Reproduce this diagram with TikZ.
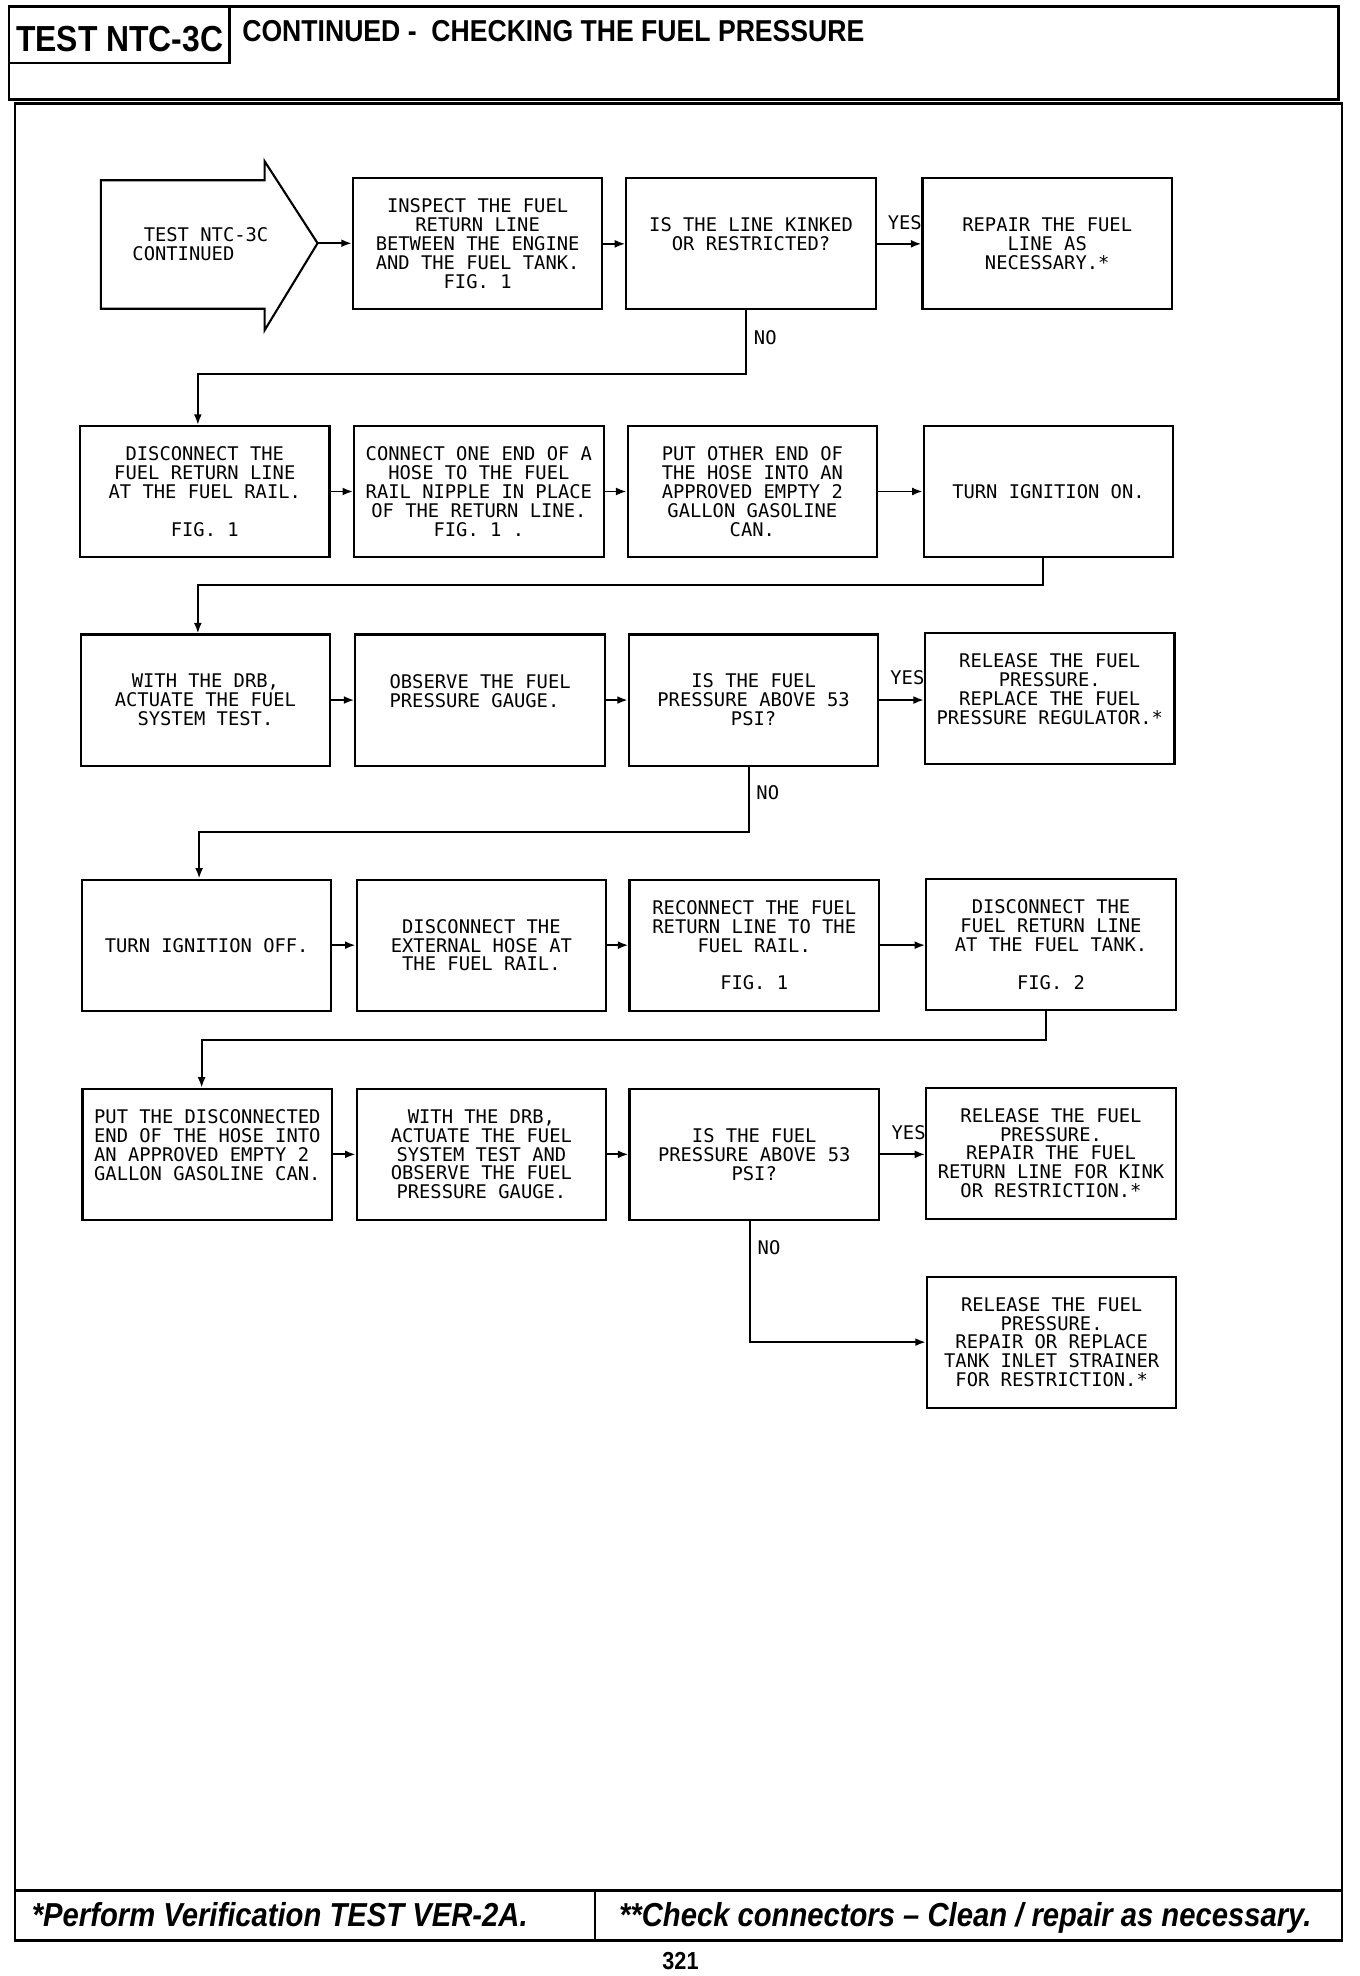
\documentclass[tikz,border=0pt]{standalone}
\usepackage{fontspec}
\setmainfont{Liberation Sans}
\newfontfamily\boxfont{DejaVu Sans Mono}
\newfontfamily\hdrfont[FakeStretch=0.88]{Liberation Sans}
\usetikzlibrary{arrows.meta,calc}
\def\U{0.025208cm}
\newcommand\bxf{\boxfont\fontsize{10.7pt}{10.76pt}\selectfont}
\begin{document}
\begin{tikzpicture}[x={(\U,0)},y={(0,-\U)},
  flowbox/.style={draw,line width=1.2pt,minimum width=198*\U,minimum height=104*\U,inner sep=0pt,align=center,font=\bxf},
  arr/.style={line width=1.1pt,-{Latex[length=6pt,width=4.5pt]}},
  lab/.style={font=\bxf,inner sep=0pt},
  frame/.style={line width=1.5pt}]
\fill[white] (0,0) rectangle (1079,1568);
\useasboundingbox (0,0) rectangle (1079,1568);

% header and frame
\draw[frame] (7,5) rectangle (1062,79);
\draw[frame] (7,50) -- (182,50) -- (182,5);
\node[anchor=base,inner sep=0pt,font=\hdrfont\fontsize{20.6pt}{24pt}\selectfont\bfseries] (hdA) at (95,41) {TEST NTC-3C};
\node[anchor=base west,inner sep=0pt,font=\hdrfont\fontsize{17.2pt}{20pt}\selectfont\bfseries] (hdB) at (192,33) {CONTINUED -\ \ CHECKING THE FUEL PRESSURE};
\draw[frame] (12,82) rectangle (1065,1540);
\draw[frame] (12,1500) -- (1065,1500);
\draw[frame] (472,1500) -- (472,1540);
\node[anchor=base,inner sep=0pt,font=\hdrfont\fontsize{18.9pt}{22pt}\selectfont\bfseries\itshape] (ftA) at (222,1529) {*Perform Verification TEST VER-2A.};
\node[anchor=base,inner sep=0pt,font=\hdrfont\fontsize{18.9pt}{22pt}\selectfont\bfseries\itshape] (ftB) at (766,1529) {**Check connectors – Clean / repair as necessary.};
\node[anchor=base,inner sep=0pt,font=\hdrfont\fontsize{14pt}{16pt}\selectfont\bfseries] (pg) at (540,1563) {321};

% start arrow
\draw[line width=1.2pt,line join=miter] (80,143) -- (210,143) -- (210,128) -- (252,193) -- (210,262) -- (210,245) -- (80,245) -- cycle;
\coordinate (a0tip) at (252,193);
\node[lab,align=left] (a0) at (159,193.5) {\phantom{X}TEST NTC-3C\\CONTINUED};

% row 1
\node[flowbox] (a1) at (379,193.5) {INSPECT THE FUEL\\RETURN LINE\\BETWEEN THE ENGINE\\AND THE FUEL TANK.\\FIG. 1};
\node[flowbox] (a2) at (596,193.5) {IS THE LINE KINKED\\OR RESTRICTED?\\\mbox{}};
\node[flowbox] (a3) at (831,193.5) {REPAIR THE FUEL\\LINE AS\\NECESSARY.*};
% row 2
\node[flowbox] (b1) at (162.5,390) {DISCONNECT THE\\FUEL RETURN LINE\\AT THE FUEL RAIL.\\\mbox{}\\FIG. 1};
\node[flowbox] (b2) at (380,390) {CONNECT ONE END OF A\\HOSE TO THE FUEL\\RAIL NIPPLE IN PLACE\\OF THE RETURN LINE.\\FIG. 1 .};
\node[flowbox] (b3) at (597,390) {PUT OTHER END OF\\THE HOSE INTO AN\\APPROVED EMPTY 2\\GALLON GASOLINE\\CAN.};
\node[flowbox] (b4) at (832,390) {TURN IGNITION ON.};
% row 3
\node[flowbox] (c1) at (163,555.5) {WITH THE DRB,\\ACTUATE THE FUEL\\SYSTEM TEST.};
\node[flowbox,align=left] (c2) at (381,555.5) {OBSERVE THE FUEL\\PRESSURE GAUGE.\\\mbox{}};
\node[flowbox] (c3) at (598,555.5) {IS THE FUEL\\PRESSURE ABOVE 53\\PSI?};
\node[flowbox] (c4) at (833,554.5) {RELEASE THE FUEL\\PRESSURE.\\REPLACE THE FUEL\\PRESSURE REGULATOR.*\\\mbox{}};
% row 4
\node[flowbox] (d1) at (164,750) {TURN IGNITION OFF.};
\node[flowbox] (d2) at (382,750) {DISCONNECT THE\\EXTERNAL HOSE AT\\THE FUEL RAIL.};
\node[flowbox] (d3) at (598.5,750) {RECONNECT THE FUEL\\RETURN LINE TO THE\\FUEL RAIL.\\\mbox{}\\FIG. 1};
\node[flowbox] (d4) at (834,749.5) {DISCONNECT THE\\FUEL RETURN LINE\\AT THE FUEL TANK.\\\mbox{}\\FIG. 2};
% row 5
\node[flowbox,align=left] (e1) at (164.5,916) {PUT THE DISCONNECTED\\END OF THE HOSE INTO\\AN APPROVED EMPTY 2\\GALLON GASOLINE CAN.\\\mbox{}};
\node[flowbox] (e2) at (382,916) {WITH THE DRB,\\ACTUATE THE FUEL\\SYSTEM TEST AND\\OBSERVE THE FUEL\\PRESSURE GAUGE.};
\node[flowbox] (e3) at (598.5,916) {IS THE FUEL\\PRESSURE ABOVE 53\\PSI?};
\node[flowbox] (e4) at (834,915) {RELEASE THE FUEL\\PRESSURE.\\REPAIR THE FUEL\\RETURN LINE FOR KINK\\OR RESTRICTION.*};
\node[flowbox] (f1) at (834.5,1065) {RELEASE THE FUEL\\PRESSURE.\\REPAIR OR REPLACE\\TANK INLET STRAINER\\FOR RESTRICTION.*};

% connectors row 1
\draw[arr] (a0tip) -- (a0tip -| a1.west);
\draw[arr] (a1.east) -- (a2.west);
\draw[arr] (a2.east) -- (a3.west);
\node[lab] (y1) at (718,177) {YES};
\draw[arr] ([xshift=-4*\U]a2.south) -- ([xshift=-4*\U]a2.south |- 0,297) -| ([xshift=-5.5*\U]b1.north);
\node[lab,anchor=west] (n1) at (598,268) {NO};
% row 2
\draw[arr] (b1.east) -- (b2.west);
\draw[arr] (b2.east) -- (b3.west);
\draw[arr] (b3.east) -- (b4.west);
\draw[arr] ([xshift=-4*\U]b4.south) -- ([xshift=-4*\U]b4.south |- 0,464) -| ([xshift=-6*\U]c1.north);
% row 3
\draw[arr] (c1.east) -- (c2.west);
\draw[arr] (c2.east) -- (c3.west);
\draw[arr] (c3.east) -- (c3.east -| c4.west);
\node[lab] (y2) at (720,538) {YES};
\draw[arr] ([xshift=-4*\U]c3.south) -- ([xshift=-4*\U]c3.south |- 0,660) -| ([xshift=-6*\U]d1.north);
\node[lab,anchor=west] (n2) at (600,629) {NO};
% row 4
\draw[arr] (d1.east) -- (d2.west);
\draw[arr] (d2.east) -- (d3.west);
\draw[arr] (d3.east) -- (d3.east -| d4.west);
\draw[arr] ([xshift=-4*\U]d4.south) -- ([xshift=-4*\U]d4.south |- 0,825) -| ([xshift=-4.5*\U]e1.north);
% row 5
\draw[arr] (e1.east) -- (e2.west);
\draw[arr] (e2.east) -- (e3.west);
\draw[arr] (e3.east) -- (e3.east -| e4.west);
\node[lab] (y3) at (721,899) {YES};
\draw[arr] ([xshift=-3.5*\U]e3.south) -- ([xshift=-3.5*\U]e3.south |- f1.west) -- (f1.west);
\node[lab,anchor=west] (n3) at (601,990) {NO};
\end{tikzpicture}
\end{document}
